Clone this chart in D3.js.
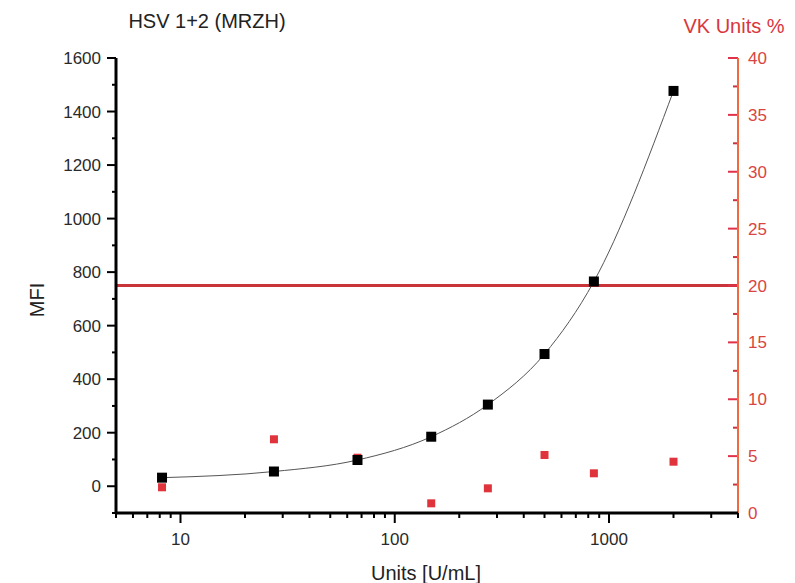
<!DOCTYPE html>
<html>
<head>
<meta charset="utf-8">
<script src="https://cdn.jsdelivr.net/npm/d3@7"></script>
<style>
  body { margin: 0; background: #fff; }
  svg { display: block; font-family: "Liberation Sans", Arial, sans-serif; }
</style>
</head>
<body>
<svg id="chart" width="795" height="583"></svg>
<script>
const title = "HSV 1+2 (MRZH)";
const xLabel = "Units [U/mL]";
const yLabel = "MFI";
const y2Label = "VK Units %";
const units = [8.2, 27.3, 67, 148, 272, 500, 850, 2000];
const mfi = [32, 55, 98, 185, 305, 494, 765, 1477];
const vkPercent = [2.26, 6.48, 4.86, 0.85, 2.17, 5.1, 3.49, 4.51];
const cutoffPercent = [20];
const yTicks = [0, 200, 400, 600, 800, 1000, 1200, 1400, 1600];
const y2Ticks = [0, 5, 10, 15, 20, 25, 30, 35, 40];
const xTicks = [10, 100, 1000];

const svg = d3.select("#chart");
const pLeft = 116, pRight = 738, pTop = 58, pBottom = 513;

const x = d3.scaleLog().domain([5, 4000]).range([pLeft, pRight]);
const y = d3.scaleLinear().domain([-100, 1600]).range([pBottom, pTop]);
const y2 = d3.scaleLinear().domain([0, 40]).range([pBottom, pTop]);

const textCol = "#2a2a2a";
const redAxis = "#ef6a3e";
const tickFont = 17;

// cutoff line
svg.append("g").selectAll("line").data(cutoffPercent).join("line")
  .attr("x1", pLeft).attr("x2", pRight)
  .attr("y1", d => y2(d)).attr("y2", d => y2(d))
  .attr("stroke", "#c8343a").attr("stroke-width", 3);

// fit curve
const pts = units.map((u, i) => [x(u), y(mfi[i])]);
svg.append("path")
  .attr("d", d3.line().curve(d3.curveMonotoneX)(pts))
  .attr("fill", "none").attr("stroke", "#555").attr("stroke-width", 1);

// left axis
const gL = svg.append("g").attr("transform", `translate(${pLeft},0)`);
const minorY = d3.range(-100, 1601, 100).filter(v => v % 200 !== 0);
gL.selectAll("line.minor").data(minorY).join("line").attr("class", "minor")
  .attr("x1", -4).attr("x2", 0).attr("y1", d => y(d)).attr("y2", d => y(d))
  .attr("stroke", "#000").attr("stroke-width", 2);
gL.selectAll("line.major").data(yTicks).join("line").attr("class", "major")
  .attr("x1", -9).attr("x2", 0).attr("y1", d => y(d)).attr("y2", d => y(d))
  .attr("stroke", "#000").attr("stroke-width", 2);
gL.selectAll("text").data(yTicks).join("text")
  .attr("x", -15).attr("y", d => y(d)).attr("dy", "0.36em")
  .attr("text-anchor", "end").attr("font-size", tickFont).attr("fill", textCol)
  .text(d => d);
gL.append("line").attr("x1", 0).attr("x2", 0).attr("y1", pTop).attr("y2", pBottom + 1)
  .attr("stroke", "#000").attr("stroke-width", 3);

// right axis
const gR = svg.append("g").attr("transform", `translate(${pRight},0)`);
const minorY2 = d3.range(2.5, 40, 5);
gR.selectAll("line.minor").data(minorY2).join("line").attr("class", "minor")
  .attr("x1", -5).attr("x2", 0).attr("y1", d => y2(d)).attr("y2", d => y2(d))
  .attr("stroke", "#c8343a").attr("stroke-width", 2);
gR.selectAll("line.major").data(y2Ticks).join("line").attr("class", "major")
  .attr("x1", -10).attr("x2", 0).attr("y1", d => y2(d)).attr("y2", d => y2(d))
  .attr("stroke", "#e0334a").attr("stroke-width", 2);
gR.selectAll("text").data(y2Ticks).join("text")
  .attr("x", 10).attr("y", d => y2(d)).attr("dy", "0.36em")
  .attr("text-anchor", "start").attr("font-size", tickFont).attr("fill", "#d9453f")
  .text(d => d);
gR.append("line").attr("x1", 0).attr("x2", 0).attr("y1", pTop).attr("y2", pBottom)
  .attr("stroke", redAxis).attr("stroke-width", 2);

// bottom axis
const gB = svg.append("g").attr("transform", `translate(0,${pBottom})`);
const minorX = [];
[1, 10, 100, 1000].forEach(dec => { for (let k = 2; k <= 9; k++) { const v = dec * k; if (v >= 5 && v <= 4000) minorX.push(v); } });
gB.selectAll("line.minor").data(minorX).join("line").attr("class", "minor")
  .attr("x1", d => x(d)).attr("x2", d => x(d)).attr("y1", 0).attr("y2", 5)
  .attr("stroke", "#000").attr("stroke-width", 2);
gB.selectAll("line.major").data(xTicks).join("line").attr("class", "major")
  .attr("x1", d => x(d)).attr("x2", d => x(d)).attr("y1", 0).attr("y2", 10)
  .attr("stroke", "#000").attr("stroke-width", 2);
gB.selectAll("text").data(xTicks).join("text")
  .attr("x", d => x(d)).attr("y", 32)
  .attr("text-anchor", "middle").attr("font-size", tickFont).attr("fill", textCol)
  .text(d => d);
gB.append("line").attr("x1", pLeft - 1).attr("x2", pRight).attr("y1", 0).attr("y2", 0)
  .attr("stroke", "#000").attr("stroke-width", 3);

// red squares
const rs = 8;
svg.append("g").selectAll("rect").data(units).join("rect")
  .attr("x", (d) => x(d) - rs / 2).attr("y", (d, i) => y2(vkPercent[i]) - rs / 2)
  .attr("width", rs).attr("height", rs).attr("fill", "#e0343c");

// black squares
const bs = 10;
svg.append("g").selectAll("rect").data(units).join("rect")
  .attr("x", (d) => x(d) - bs / 2).attr("y", (d, i) => y(mfi[i]) - bs / 2)
  .attr("width", bs).attr("height", bs).attr("fill", "#000");

// labels
svg.append("text").attr("x", 207).attr("y", 28).attr("text-anchor", "middle")
  .attr("font-size", 20).attr("fill", "#222").text(title);
svg.append("text").attr("x", 734).attr("y", 33).attr("text-anchor", "middle")
  .attr("font-size", 20).attr("fill", "#d9363e").text(y2Label);
svg.append("text").attr("transform", "translate(44,300) rotate(-90)")
  .attr("text-anchor", "middle").attr("font-size", 20).attr("fill", "#222").text(yLabel);
svg.append("text").attr("x", 426).attr("y", 580).attr("text-anchor", "middle")
  .attr("font-size", 20).attr("fill", "#222").text(xLabel);
</script>
</body>
</html>
